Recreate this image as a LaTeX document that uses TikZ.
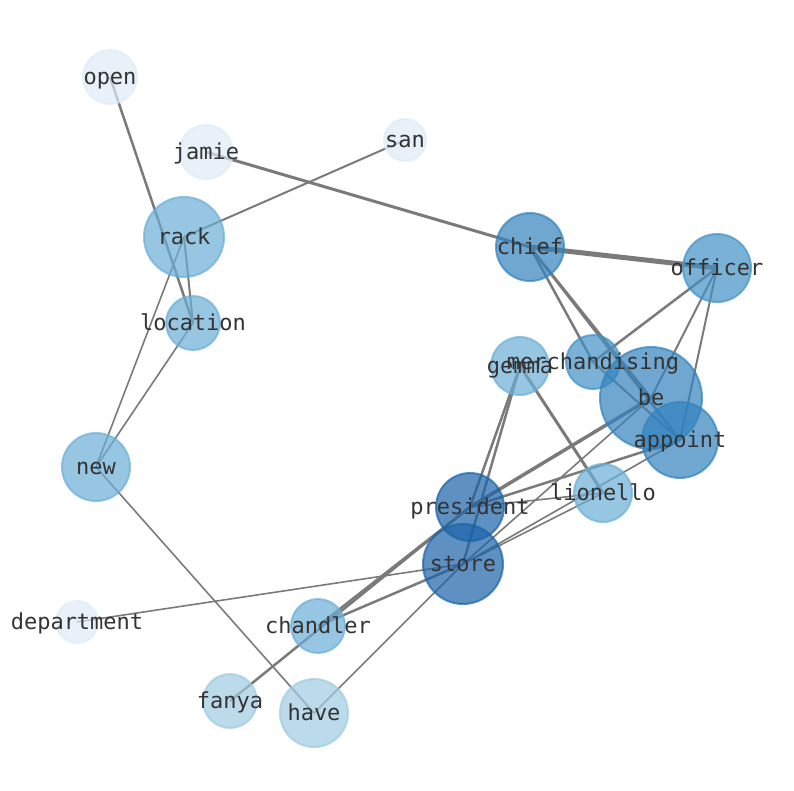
\documentclass[tikz,border=0pt]{standalone}
\usepackage{fontspec}
\setmonofont{DejaVu Sans Mono}
\usetikzlibrary{backgrounds}
\definecolor{cA}{HTML}{DEEBF7}
\definecolor{cB}{HTML}{9ECAE1}
\definecolor{cC}{HTML}{6BAED6}
\definecolor{cD}{HTML}{4292C6}
\definecolor{cE}{HTML}{3282BE}
\definecolor{cF}{HTML}{2171B5}
\definecolor{cG}{HTML}{1A63A8}
\definecolor{txt}{HTML}{333333}
\definecolor{edgegray}{HTML}{7A7A7A}
\tikzset{
  vtx/.style n args={2}{circle, inner sep=0pt, minimum size=#2*2pt, fill=#1, draw=#1, fill opacity=0.7, draw opacity=0.7, line width=2pt},
  lbl/.style={text=txt, font=\ttfamily\fontsize{22}{22}\selectfont, inner sep=0pt, text height=16.7pt, text depth=5.2pt, yshift=-2pt},
  lnk/.style={draw=edgegray, line width=#1pt},
  lnk/.default=1.6
}
\begin{document}
\begin{tikzpicture}[x=1pt,y=-1pt]
\useasboundingbox (0,0) rectangle (794,790);
% nodes
\node[vtx={cA}{27}] (open) at (110,77) {};
\node[vtx={cA}{27}] (jamie) at (206,152) {};
\node[vtx={cA}{21}] (san) at (405,140) {};
\node[vtx={cC}{40}] (rack) at (184,237) {};
\node[vtx={cC}{27}] (location) at (193,323) {};
\node[vtx={cC}{34}] (new) at (96,467) {};
\node[vtx={cA}{21}] (department) at (77,622) {};
\node[vtx={cE}{34}] (chief) at (530,247) {};
\node[vtx={cD}{34}] (officer) at (717,268) {};
\node[vtx={cC}{29}] (gemma) at (520,366) {};
\node[vtx={cD}{27}] (merchandising) at (593,362) {};
\node[vtx={cE}{51}] (be) at (651,398) {};
\node[vtx={cE}{38}] (appoint) at (680,440) {};
\node[vtx={cG}{34}] (president) at (470,507) {};
\node[vtx={cC}{29}] (lionello) at (603,493) {};
\node[vtx={cG}{40}] (store) at (463,564) {};
\node[vtx={cC}{27}] (chandler) at (318,626) {};
\node[vtx={cB}{27}] (fanya) at (230,701) {};
\node[vtx={cB}{34}] (have) at (314,713) {};
% edges
\begin{pgfonlayer}{background}
\draw[lnk=2.5] (open.center) -- (location.center);
\draw[lnk=3] (jamie.center) -- (chief.center);
\draw[lnk=2] (san.center) -- (rack.center);
\draw[lnk=2] (rack.center) -- (location.center);
\draw[lnk] (rack.center) -- (new.center);
\draw[lnk] (location.center) -- (new.center);
\draw[lnk] (new.center) -- (have.center);
\draw[lnk=5] (chief.center) -- (officer.center);
\draw[lnk=2.5] (chief.center) -- (merchandising.center);
\draw[lnk=2.5] (chief.center) -- (be.center);
\draw[lnk=2.5] (chief.center) -- (appoint.center);
\draw[lnk=2.5] (officer.center) -- (merchandising.center);
\draw[lnk=2] (officer.center) -- (be.center);
\draw[lnk=2] (officer.center) -- (appoint.center);
\draw[lnk=2] (merchandising.center) -- (appoint.center);
\draw[lnk=3] (gemma.center) -- (lionello.center);
\draw[lnk=2.5] (gemma.center) -- (president.center);
\draw[lnk=2.5] (gemma.center) -- (store.center);
\draw[lnk=3.5] (be.center) -- (president.center);
\draw[lnk] (be.center) -- (store.center);
\draw[lnk=2.5] (appoint.center) -- (president.center);
\draw[lnk] (appoint.center) -- (store.center);
\draw[lnk] (lionello.center) -- (president.center);
\draw[lnk] (lionello.center) -- (store.center);
\draw[lnk] (store.center) -- (department.center);
\draw[lnk=2.5] (store.center) -- (chandler.center);
\draw[lnk] (store.center) -- (have.center);
\draw[lnk=2.5] (chandler.center) -- (president.center);
\draw[lnk=2.5] (fanya.center) -- (president.center);
\end{pgfonlayer}
% labels
\foreach \n in {open,jamie,san,rack,location,new,department,chief,officer,gemma,merchandising,be,appoint,president,lionello,store,chandler,fanya,have}
  \node[lbl] (\n-t) at (\n.center) {\n};
\end{tikzpicture}
\end{document}
